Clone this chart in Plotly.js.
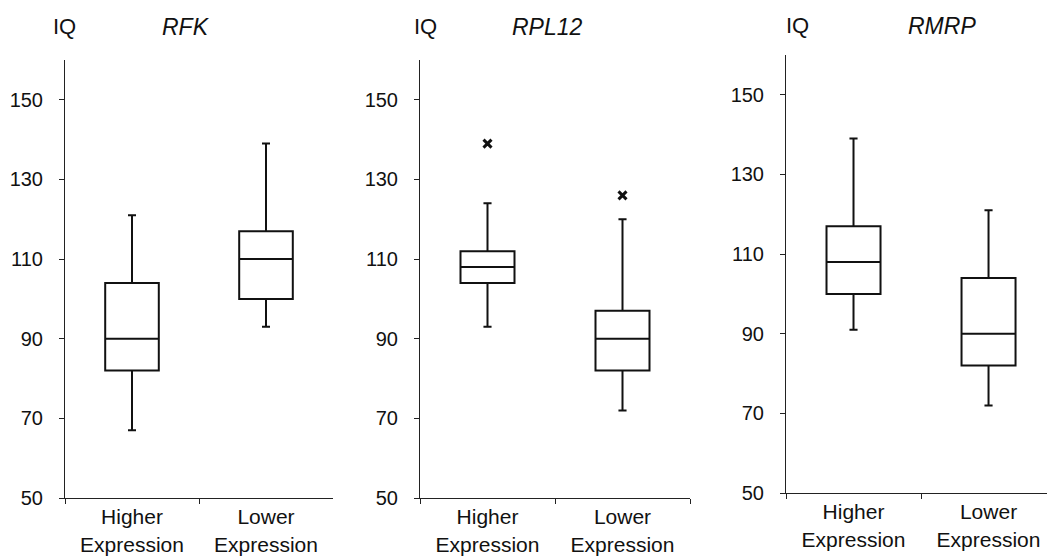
<!DOCTYPE html>
<html>
<head>
<meta charset="utf-8">
<script src="https://cdn.plot.ly/plotly-3.0.1.min.js"></script>
<style>html,body{margin:0;padding:0;background:#fff;}#chart{width:1047px;height:559px;}</style>
</head>
<body>
<div id="chart"></div>
<script>
// ---- data ----
const categories = ["Higher<br>Expression", "Lower<br>Expression"];
const genes = ["RFK", "RPL12", "RMRP"];
const yTickVals = [50, 70, 90, 110, 130, 150];

// per gene: [Higher, Lower]
const RFK_lower   = [67, 93];
const RFK_q1      = [82, 100];
const RFK_median  = [90, 110];
const RFK_q3      = [104, 117];
const RFK_upper   = [121, 139];

const RPL12_lower  = [93, 72];
const RPL12_q1     = [104, 82];
const RPL12_median = [108, 90];
const RPL12_q3     = [112, 97];
const RPL12_upper  = [124, 120];
const RPL12_outliers = [139, 126];

const RMRP_lower  = [91, 72];
const RMRP_q1     = [100, 82];
const RMRP_median = [108, 90];
const RMRP_q3     = [117, 104];
const RMRP_upper  = [139, 121];

// ---- chart ----
const FONT = "Arial, 'Liberation Sans', sans-serif";
const boxStyle = {
  type: "box",
  line: {color: "#111", width: 2},
  fillcolor: "rgba(255,255,255,0)",
  width: 0.4,
  whiskerwidth: 0.15,
  boxpoints: false,
  hoverinfo: "skip",
  showlegend: false
};

const stats = [
  {lo: RFK_lower, q1: RFK_q1, md: RFK_median, q3: RFK_q3, hi: RFK_upper},
  {lo: RPL12_lower, q1: RPL12_q1, md: RPL12_median, q3: RPL12_q3, hi: RPL12_upper},
  {lo: RMRP_lower, q1: RMRP_q1, md: RMRP_median, q3: RMRP_q3, hi: RMRP_upper}
];

const data = [];
stats.forEach((s, i) => {
  const suf = i === 0 ? "" : String(i + 1);
  data.push(Object.assign({}, boxStyle, {
    x: categories, lowerfence: s.lo, q1: s.q1, median: s.md, q3: s.q3, upperfence: s.hi,
    xaxis: "x" + suf, yaxis: "y" + suf
  }));
});
data.push({
  type: "scatter", mode: "markers", x: categories, y: RPL12_outliers,
  xaxis: "x2", yaxis: "y2", showlegend: false, hoverinfo: "skip",
  marker: {symbol: "x-thin-open", size: 8, line: {color: "#111", width: 3}, color: "#111"}
});

const W = 1047, H = 559;
const xDom = [[65, 333], [420, 690], [786, 1047]];
const yDom = [[60, 498], [60, 498], [55, 493]];
const xRanges = [[-0.5, 1.5], [-0.5, 1.5], [-0.5, 1.433]];

const layout = {
  width: W, height: H,
  margin: {l: 0, r: 0, t: 0, b: 0},
  paper_bgcolor: "#fff", plot_bgcolor: "rgba(0,0,0,0)",
  font: {family: FONT, color: "#111", size: 20},
  showlegend: false,
  annotations: []
};

for (let i = 0; i < 3; i++) {
  const suf = i === 0 ? "" : String(i + 1);
  layout["xaxis" + suf] = {
    domain: [xDom[i][0] / W, xDom[i][1] / W],
    anchor: "y" + suf,
    type: "category",
    range: xRanges[i],
    tickson: "boundaries",
    ticks: "outside", ticklen: 5, tickcolor: "#222", tickwidth: 1,
    showline: true, linecolor: "#222", linewidth: 1,
    showgrid: false, zeroline: false,
    tickfont: {family: FONT, size: 21, color: "#111"},
    ticklabelstandoff: 0,
    fixedrange: true
  };
  layout["yaxis" + suf] = {
    domain: [1 - yDom[i][1] / H, 1 - yDom[i][0] / H],
    anchor: "x" + suf,
    range: [50, 160],
    tickvals: yTickVals,
    ticktext: yTickVals.map(String),
    ticks: "outside", ticklen: 5, tickcolor: "#222", tickwidth: 1,
    showline: true, linecolor: "#222", linewidth: 1,
    showgrid: false, zeroline: false,
    tickfont: {family: FONT, size: 20, color: "#111"},
    ticklabelstandoff: 12,
    fixedrange: true
  };
}

const iqX = [64, 425, 797];
const geneX = [186, 547, 942];
const titleY = [27, 27, 26];
for (let i = 0; i < 3; i++) {
  layout.annotations.push({
    xref: "paper", yref: "paper", x: iqX[i] / W, y: 1 - titleY[i] / H,
    xanchor: "center", yanchor: "middle", showarrow: false,
    text: "IQ", font: {family: FONT, size: 22, color: "#111"}
  });
  layout.annotations.push({
    xref: "paper", yref: "paper", x: geneX[i] / W, y: 1 - titleY[i] / H,
    xanchor: "center", yanchor: "middle", showarrow: false,
    text: "<i>" + genes[i] + "</i>", font: {family: FONT, size: 23, color: "#111"}
  });
}

Plotly.newPlot("chart", data, layout, {staticPlot: true, displayModeBar: false});
</script>
</body>
</html>
